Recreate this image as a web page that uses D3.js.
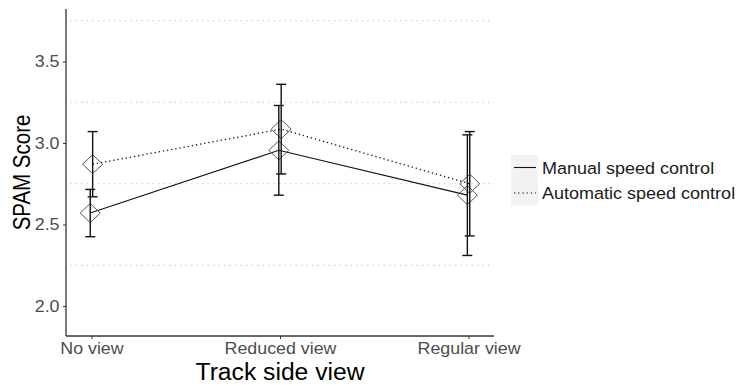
<!DOCTYPE html>
<html>
<head>
<meta charset="utf-8">
<script src="https://cdn.jsdelivr.net/npm/d3@7"></script>
<style>
  html, body { margin: 0; padding: 0; background: #fff; }
  svg { display: block; font-family: "Liberation Sans", Arial, sans-serif; }
</style>
</head>
<body>
<svg id="chart" width="740" height="385"></svg>
<script>
// Track side view conditions
const categories = ["No view", "Reduced view", "Regular view"];
const seriesNames = ["Manual speed control", "Automatic speed control"];

// Mean SPAM scores with lower / upper error bounds
const manualMean  = [2.57, 2.955, 2.68];
const manualLow   = [2.425, 2.68, 2.31];
const manualHigh  = [2.715, 3.23, 3.05];
const autoMean    = [2.87, 3.085, 2.75];
const autoLow     = [2.67, 2.81, 2.43];
const autoHigh    = [3.07, 3.36, 3.07];

const yTicks = [2.0, 2.5, 3.0, 3.5];
const yMinor = [2.25, 2.75, 3.25, 3.75];

const series = [
  { name: seriesNames[0], mean: manualMean, low: manualLow, high: manualHigh, dash: null, dodge: -1.2 },
  { name: seriesNames[1], mean: autoMean, low: autoLow, high: autoHigh, dash: "1.3,2.9", dodge: 1.2 }
];

const svg = d3.select("#chart");
const plotL = 66, plotR = 494, plotT = 9, plotB = 336;
// text is drawn slightly wide, like the exported figure
const wide = 1.08;

const x = d3.scalePoint().domain(categories).range([plotL, plotR]).padding(0.135);
const y = d3.scaleLinear().domain([1.816, 3.822]).range([plotB, plotT]);

// minor dotted grid
svg.append("g").selectAll("line").data(yMinor).join("line")
  .attr("x1", plotL + 4).attr("x2", plotR)
  .attr("y1", d => y(d)).attr("y2", d => y(d))
  .attr("stroke", "#c8c8c8").attr("stroke-width", 1)
  .attr("stroke-dasharray", "1.5,4");

// axes
const yAxis = svg.append("g").attr("transform", `translate(${plotL},0)`)
  .call(d3.axisLeft(y).tickValues(yTicks).tickFormat(d3.format(".1f")).tickSizeOuter(0).tickSize(3).tickPadding(3));
const xAxis = svg.append("g").attr("transform", `translate(0,${plotB})`)
  .call(d3.axisBottom(x).tickSizeOuter(0).tickSize(3).tickPadding(3));

[yAxis, xAxis].forEach(g => {
  g.select(".domain").remove();
  g.selectAll(".tick line").attr("stroke", "#333").attr("stroke-width", 1);
  g.selectAll(".tick text").attr("fill", "#4d4d4d").attr("font-size", 16.5)
    .attr("font-family", "Liberation Sans, Arial, sans-serif")
    .attr("transform", `scale(${wide},1)`);
});
svg.append("line").attr("x1", plotL).attr("x2", plotL).attr("y1", plotT).attr("y2", plotB)
  .attr("stroke", "#333").attr("stroke-width", 1.3);
svg.append("line").attr("x1", plotL).attr("x2", plotR).attr("y1", plotB).attr("y2", plotB)
  .attr("stroke", "#333").attr("stroke-width", 1.3);

// lines
const lineGen = (s) => d3.line()
  .x((d, i) => x(categories[i]) + s.dodge)
  .y(d => y(d));
series.forEach(s => {
  svg.append("path").datum(s.mean)
    .attr("d", lineGen(s))
    .attr("fill", "none").attr("stroke", "#111").attr("stroke-width", s.dash ? 1.3 : 1.1)
    .attr("stroke-dasharray", s.dash);
});

// open diamonds
const dw = 10, dh = 9.5;
series.forEach(s => {
  svg.append("g").selectAll("path").data(s.mean).join("path")
    .attr("d", (d, i) => {
      const cx = x(categories[i]) + s.dodge, cy = y(d);
      return `M${cx},${cy - dh}L${cx + dw},${cy}L${cx},${cy + dh}L${cx - dw},${cy}Z`;
    })
    .attr("fill", "none").attr("stroke", "#555").attr("stroke-width", 1);
});

// error bars
const capW = 5;
series.forEach(s => {
  const g = svg.append("g").attr("stroke", "#111").attr("stroke-width", 1.4).attr("fill", "none");
  categories.forEach((c, i) => {
    const cx = x(c) + s.dodge;
    g.append("line").attr("x1", cx).attr("x2", cx).attr("y1", y(s.low[i])).attr("y2", y(s.high[i]));
    g.append("line").attr("x1", cx - capW).attr("x2", cx + capW).attr("y1", y(s.low[i])).attr("y2", y(s.low[i]));
    g.append("line").attr("x1", cx - capW).attr("x2", cx + capW).attr("y1", y(s.high[i])).attr("y2", y(s.high[i]));
  });
});

// axis titles
svg.append("text")
  .attr("transform", `translate(${(plotL + plotR) / 2},380) scale(1.05,1)`)
  .attr("text-anchor", "middle").attr("font-size", 23.5).attr("fill", "#000")
  .text("Track side view");
svg.append("text")
  .attr("transform", `translate(30,${(plotT + plotB) / 2}) rotate(-90) scale(1,1.2)`)
  .attr("text-anchor", "middle").attr("font-size", 20.5).attr("fill", "#000")
  .text("SPAM Score");

// legend
const legend = svg.append("g").attr("transform", "translate(511,155)");
series.forEach((s, i) => {
  const row = legend.append("g").attr("transform", `translate(0,${i * 25.5})`);
  row.append("rect").attr("width", 27).attr("height", 25).attr("fill", "#f2f2f2");
  row.append("line").attr("x1", 3).attr("x2", 25).attr("y1", 12.5).attr("y2", 12.5)
    .attr("stroke", "#111").attr("stroke-width", 1.1)
    .attr("stroke-dasharray", s.dash);
  row.append("text").attr("transform", `translate(31,18.5) scale(1.06,1)`)
    .attr("font-size", 17).attr("fill", "#1a1a1a").text(s.name);
});
</script>
</body>
</html>
